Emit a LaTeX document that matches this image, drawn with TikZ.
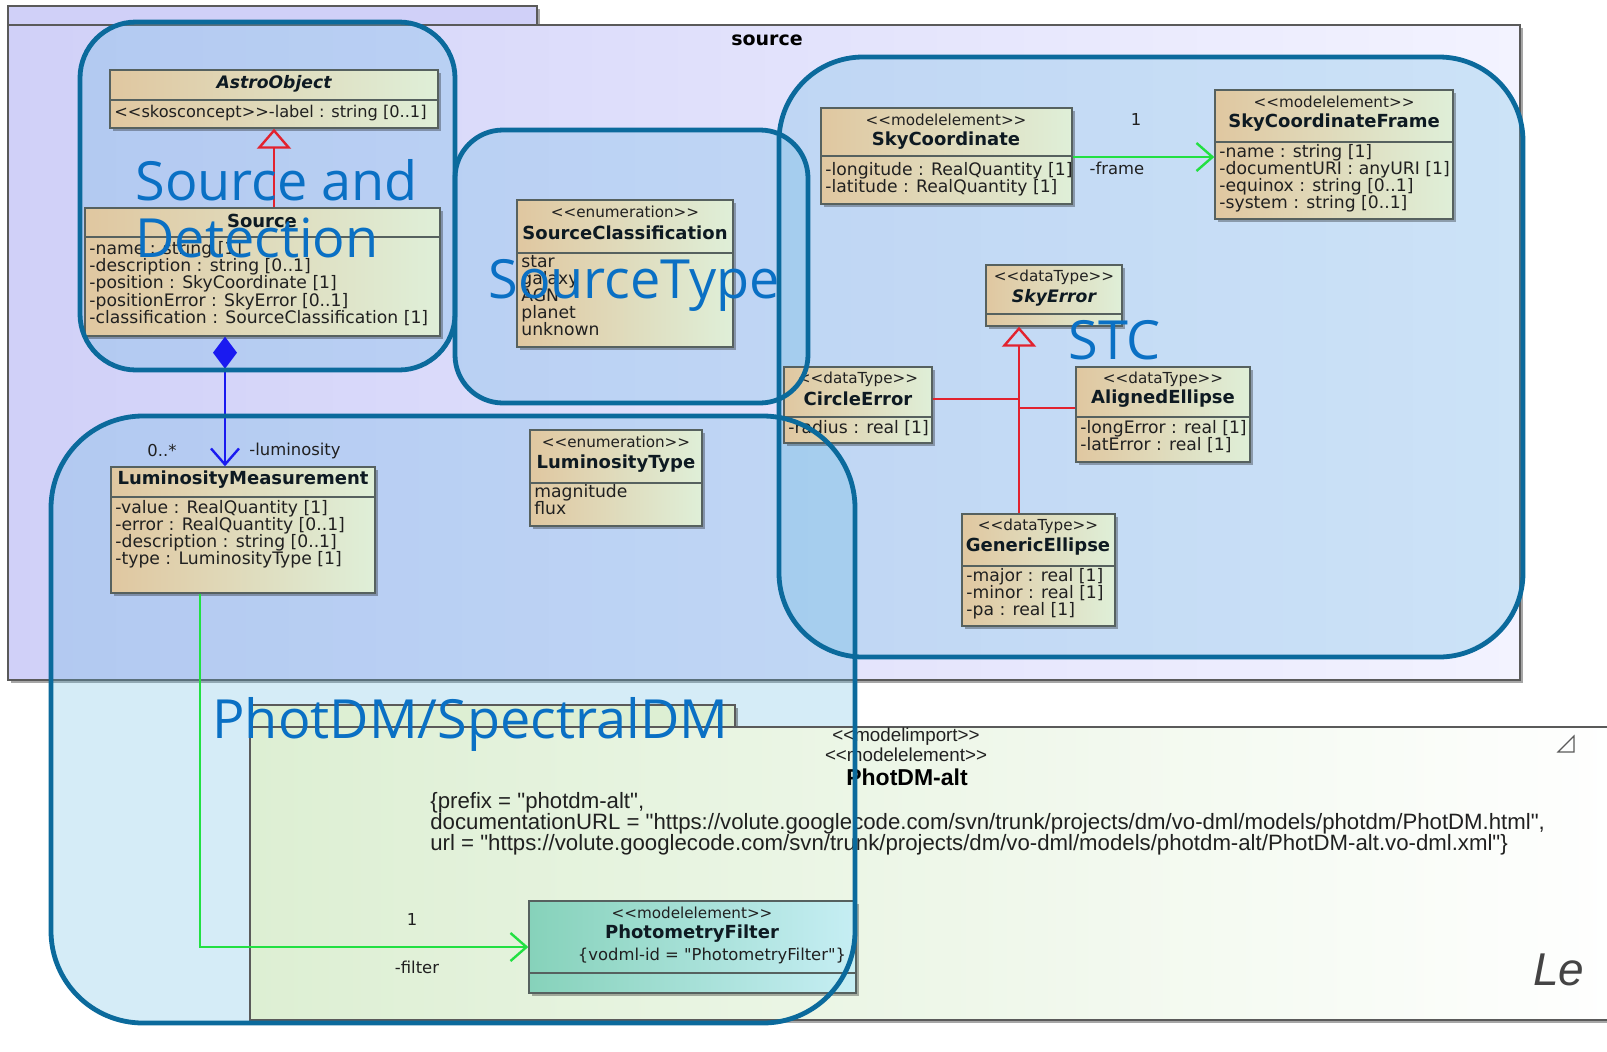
\documentclass[tikz,border=0pt]{standalone}
\usepackage{fontspec}
\setmainfont{DejaVu Sans}
\newfontfamily\umlfont{DejaVu Sans}
\newfontfamily\arialfont{Liberation Sans}
\newfontfamily\notefont{Open Sans}
\usepackage{tikz}
\usetikzlibrary{arrows.meta,fit,shadows}
\definecolor{pkgleft}{HTML}{D0D0F8}
\definecolor{pkgright}{HTML}{F3F3FF}
\definecolor{pkgedge}{HTML}{5A5A5A}
\definecolor{umltan}{HTML}{E0C7A0}
\definecolor{umlgreen}{HTML}{DFEFD8}
\definecolor{boxedge}{HTML}{56615F}
\definecolor{filtleft}{HTML}{86D2BA}
\definecolor{filtright}{HTML}{C6EEF4}
\definecolor{photleft}{HTML}{DDEFD3}
\definecolor{photmid}{HTML}{FCFCE6}
\definecolor{blobblue}{HTML}{5AB4E0}
\definecolor{blobedge}{HTML}{0B6A9C}
\definecolor{lblblue}{HTML}{0A70C4}
\definecolor{genred}{HTML}{E2222E}
\definecolor{compblue}{HTML}{1A1AF0}
\definecolor{assocgreen}{HTML}{22E042}
\definecolor{textdark}{HTML}{202020}
\definecolor{namedark}{HTML}{0E1A22}
\definecolor{legray}{HTML}{444444}
\newcommand\stereo[1]{<\kern0pt<#1>\kern0pt>}

\begin{document}
\begin{tikzpicture}[x=0.5pt, y=-0.5pt,
  pkg/.style={draw=pkgedge, line width=0.6pt, inner sep=0pt,
    drop shadow={shadow xshift=1.5pt, shadow yshift=-1.5pt, fill=black, opacity=0.35}},
  umlbox/.style={draw=boxedge, line width=0.7pt, inner sep=0pt,
    left color=umltan, right color=umlgreen,
    drop shadow={shadow xshift=1.5pt, shadow yshift=-1.5pt, fill=black, opacity=0.3}},
  sep/.style={draw=boxedge, line width=0.7pt},
  stereotype/.style={font=\umlfont\fontsize{7.6}{9}\selectfont, text=textdark, inner sep=0pt},
  cname/.style={font=\umlfont\bfseries\fontsize{9}{11}\selectfont, text=namedark, inner sep=0pt},
  cnameit/.style={cname, font=\umlfont\bfseries\itshape\fontsize{8.6}{10}\selectfont},
  attr/.style={font=\umlfont\fontsize{8.6}{10}\selectfont, text=textdark, anchor=west, inner sep=0pt,
    text height=6.4pt, text depth=1.9pt},
  role/.style={font=\umlfont\fontsize{8.2}{10}\selectfont, text=textdark, inner sep=0pt},
  gen/.style={draw=genred, line width=1.2pt, -{Triangle[open, length=10pt, width=17pt, line width=1.2pt]}},
  genplain/.style={draw=genred, line width=1.2pt},
  compose/.style={draw=compblue, line width=1.2pt,
    {Diamond[length=16pt, width=12pt]}-{Straight Barb[length=8pt, width=14pt, line width=1.2pt]}},
  assoc/.style={draw=assocgreen, line width=1.2pt, -{Straight Barb[length=8pt, width=14pt, line width=1.2pt]}},
  blobfill/.style={fill=blobblue, fill opacity=0.25, inner sep=0pt},
  blobline/.style={draw=blobedge, line width=2.4pt, inner sep=0pt},
  biglbl/.style={font=\notefont\fontsize{27}{31}\selectfont, text=lblblue, anchor=base west, inner sep=0pt},
  pstereo/.style={font=\arialfont\fontsize{9.4}{11}\selectfont, text=textdark, inner sep=0pt},
  ptext/.style={font=\arialfont\fontsize{11.1}{13}\selectfont, text=textdark, anchor=west, inner sep=0pt}
]

% Frame
\fill[white] (0,0) rectangle (1607,1051);
\useasboundingbox (0,0) rectangle (1607,1051);

% Package source
\node[pkg, fill=pkgleft, fit={(8,6) (537,25)}] (srctab) {};
\node[pkg, left color=pkgleft, right color=pkgright, fit={(8,25) (1520,680)}] (srcpkg) {};
\node[font=\umlfont\bfseries\fontsize{9.5}{11}\selectfont, inner sep=0pt] (srctitle) at (767,40) {source};

% Region fills
\foreach \n/\xa/\ya/\xb/\yb/\rad in {sd/80/22/455/370/28, st/455/130/808/403/24, stc/779/57/1523/657/42, phot/51/416/855/1023/46}
  \node[blobfill, rounded corners=\rad pt, fit={(\xa,\ya) (\xb,\yb)}] (fill\n) {};

% Package PhotDM-alt
\node[pkg, fill=photleft, fit={(250,705) (735,727)}] (phottab) {};
\node[pkg, left color=photleft, middle color=photmid, right color=white, fit={(250,727) (1640,1020)}] (photpkg) {};
\node[pstereo] (photst1) at (906,737) {\stereo{modelimport}};
\node[pstereo] (photst2) at (906,755) {\stereo{modelelement}};
\node[font=\arialfont\bfseries\fontsize{11.5}{13}\selectfont, inner sep=0pt] (photname) at (907,777) {PhotDM-alt};
\node[ptext] (photc1) at (430,803) {\{prefix = "photdm-alt",};
\node[ptext] (photc2) at (430,824) {documentationURL = "https://volute.googlecode.com/svn/trunk/projects/dm/vo-dml/models/photdm/PhotDM.html",};
\node[ptext] (photc3) at (430,845) {url = "https://volute.googlecode.com/svn/trunk/projects/dm/vo-dml/models/photdm-alt/PhotDM-alt.vo-dml.xml"\}};
\draw[pkgedge, line width=0.6pt] (1558,752) -- (1574,736) -- (1574,752) -- cycle;
\node[font=\arialfont\itshape\fontsize{23}{26}\selectfont, text=legray, anchor=base west, inner sep=0pt] (legend) at (1533,985) {Le};

% AstroObject
\node[umlbox, fit={(110,70) (438,128)}] (astro) {};
\node[cnameit] (astroname) at (274,84) {AstroObject};
\draw[sep] (110,100) -- (438,100);
\node[attr, font=\umlfont\fontsize{8.1}{10}\selectfont] (astroattr) at (114,113) {\stereo{skosconcept}-label : string [0..1]};

% Source
\node[umlbox, fit={(85,208) (440,336)}] (source) {};
\node[cname] (sourcename) at (262,221) {Source};
\draw[sep] (85,237) -- (440,237);
\foreach \t [count=\i from 0] in {-name : string [1], -description : string [0..1], -position : SkyCoordinate [1], -positionError : SkyError [0..1], -classification : SourceClassification [1]}
  \node[attr] (sourceattr\i) at (89,250+17.2*\i) {\t};

% SourceClassification
\node[umlbox, fit={(517,200) (733,347)}] (srcclass) {};
\node[stereotype] (srcclassst) at (625,212) {\stereo{enumeration}};
\node[cname] (srcclassname) at (625,233) {SourceClassification};
\draw[sep] (517,253) -- (733,253);
\foreach \t [count=\i from 0] in {star, galaxy, AGN, planet, unknown}
  \node[attr] (srcclasslit\i) at (521,263+17*\i) {\t};

% SkyCoordinate
\node[umlbox, fit={(821,108) (1072,204)}] (skycoord) {};
\node[stereotype] (skycoordst) at (946,120) {\stereo{modelelement}};
\node[cname] (skycoordname) at (946,141) {SkyCoordinate};
\draw[sep] (821,156) -- (1072,156);
\foreach \t [count=\i from 0] in {-longitude : RealQuantity [1], -latitude : RealQuantity [1]}
  \node[attr] (skycoordattr\i) at (825,171+17*\i) {\t};

% SkyCoordinateFrame
\node[umlbox, fit={(1215,90) (1453,219)}] (skyframe) {};
\node[stereotype] (skyframest) at (1334,102) {\stereo{modelelement}};
\node[cname] (skyframename) at (1334,123) {SkyCoordinateFrame};
\draw[sep] (1215,142) -- (1453,142);
\foreach \t [count=\i from 0] in {-name : string [1], -documentURI : anyURI [1], -equinox : string [0..1], -system : string [0..1]}
  \node[attr] (skyframeattr\i) at (1219,153+17*\i) {\t};

% SkyError
\node[umlbox, fit={(986,265) (1122,326)}] (skyerror) {};
\node[stereotype] (skyerrorst) at (1054,277) {\stereo{dataType}};
\node[cnameit] (skyerrorname) at (1054,298) {SkyError};
\draw[sep] (986,314) -- (1122,314);

% CircleError
\node[umlbox, fit={(784,367) (932,443)}] (circle) {};
\node[stereotype] (circlest) at (858,379) {\stereo{dataType}};
\node[cname] (circlename) at (858,399) {CircleError};
\draw[sep] (784,417) -- (932,417);
\node[attr] (circleattr) at (788,429) {-radius : real [1]};

% AlignedEllipse
\node[umlbox, fit={(1076,367) (1250,462)}] (aligned) {};
\node[stereotype] (alignedst) at (1163,379) {\stereo{dataType}};
\node[cname] (alignedname) at (1163,399) {AlignedEllipse};
\draw[sep] (1076,417) -- (1250,417);
\foreach \t [count=\i from 0] in {-longError : real [1], -latError : real [1]}
  \node[attr] (alignedattr\i) at (1080,429+17*\i) {\t};

% GenericEllipse
\node[umlbox, fit={(962,514) (1115,626)}] (generic) {};
\node[stereotype] (genericst) at (1038,526) {\stereo{dataType}};
\node[cname] (genericname) at (1038,547) {GenericEllipse};
\draw[sep] (962,566) -- (1115,566);
\foreach \t [count=\i from 0] in {-major : real [1], -minor : real [1], -pa : real [1]}
  \node[attr] (genericattr\i) at (966,577+17*\i) {\t};

% LuminosityMeasurement
\node[umlbox, fit={(111,467) (375,593)}] (lummeas) {};
\node[cname] (lummeasname) at (243,480) {LuminosityMeasurement};
\draw[sep] (111,497) -- (375,497);
\foreach \t [count=\i from 0] in {-value : RealQuantity [1], -error : RealQuantity [0..1], -description : string [0..1], -type : LuminosityType [1]}
  \node[attr] (lummeasattr\i) at (115,509+17*\i) {\t};

% LuminosityType
\node[umlbox, fit={(530,430) (702,526)}] (lumtype) {};
\node[stereotype] (lumtypest) at (616,442) {\stereo{enumeration}};
\node[cname] (lumtypename) at (616,464) {LuminosityType};
\draw[sep] (530,483) -- (702,483);
\foreach \t [count=\i from 0] in {magnitude, flux}
  \node[attr] (lumtypelit\i) at (534,493+17*\i) {\t};

% PhotometryFilter
\node[umlbox, left color=filtleft, right color=filtright, fit={(529,901) (856,993)}] (photfilter) {};
\node[stereotype] (photfilterst) at (692,913) {\stereo{modelelement}};
\node[cname] (photfiltername) at (692,934) {PhotometryFilter};
\node[stereotype, font=\umlfont\fontsize{8.2}{10}\selectfont] (photfilterid) at (712,956) {\{vodml-id = "PhotometryFilter"\}};
\draw[sep] (529,973) -- (856,973);

% Connectors
\coordinate (compx) at (225,0);
\coordinate (framey) at (0,157);
\coordinate (filtx) at (200,0);
\coordinate (genx) at (1019,0);
\coordinate (aligny) at (0,408);
\draw[gen] (source.north -| astro.south) -- (astro.south);
\draw[compose] (source.south -| compx) -- (lummeas.north -| compx);
\draw[assoc] (skycoord.east |- framey) -- (skyframe.west |- framey);
\draw[assoc] (lummeas.south -| filtx) |- (photfilter.west);
\draw[gen] (generic.north -| genx) -- (skyerror.south -| genx);
\draw[genplain] (circle.east |- circlename) -- (genx |- circlename);
\draw[genplain] (aligned.west |- aligny) -- (genx |- aligny);

% Role labels
\node[role] (lummult) at (162,451) {0..*};
\node[role] (lumrole) at (295,451) {-luminosity};
\node[role] (framemult) at (1136,120) {1};
\node[role] (framerole) at (1117,168) {-frame};
\node[role] (filtmult) at (412,920) {1};
\node[role] (filtrole) at (417,967) {-filter};

% Region outlines
\foreach \n/\xa/\ya/\xb/\yb/\rad in {sd/80/22/455/370/28, st/455/130/808/403/24, stc/779/57/1523/657/42, phot/51/416/855/1023/46}
  \node[blobline, rounded corners=\rad pt, fit={(\xa,\ya) (\xb,\yb)}] (blob\n) {};

% Region labels
\node[biglbl] (sdlbla) at (135,200) {Source and};
\node[biglbl] (sdlblb) at (135,257) {Detection};
\node[biglbl] (stlbl) at (488,298) {SourceType};
\node[biglbl] (stclbl) at (1068,359) {STC};
\node[biglbl] (photlbl) at (212,738) {PhotDM/SpectralDM};

\end{tikzpicture}
\end{document}
